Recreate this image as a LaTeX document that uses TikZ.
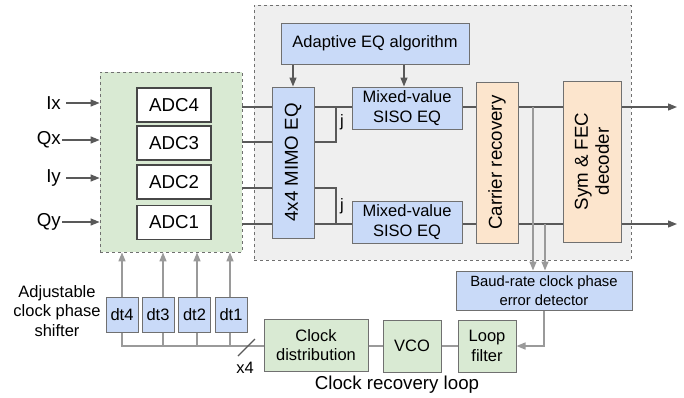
\documentclass[tikz,border=0pt]{standalone}
\usepackage{fontspec}
\setmainfont{Liberation Sans}
\usetikzlibrary{arrows.meta,calc}
\definecolor{bluef}{HTML}{C9DAF8}
\definecolor{greenf}{HTML}{D9EAD3}
\definecolor{orangef}{HTML}{FCE5CD}
\definecolor{greyf}{HTML}{EFEFEF}
\definecolor{bord}{HTML}{707070}
\definecolor{linec}{HTML}{595959}
\definecolor{tapc}{HTML}{9A9A9A}
\newcommand{\fN}{\fontsize{16.5}{19.5}\selectfont}
\newcommand{\fL}{\fontsize{18.7}{21}\selectfont}
\newcommand{\fS}{\fontsize{14.8}{19.3}\selectfont}
\tikzset{
  bx/.style={draw=bord, line width=1pt, inner sep=0pt, align=center, font=\fN},
  bluebox/.style={bx, fill=bluef},
  greenbox/.style={bx, fill=greenf},
  orangebox/.style={bx, fill=orangef},
  adcbox/.style={draw=linec!80!black, line width=1.6pt, fill=white, inner sep=0pt, font=\fL, minimum width=74pt, minimum height=34pt},
  region/.style={draw=bord, dashed, line width=0.8pt, inner sep=0pt},
  sig/.style={draw=linec, line width=1.3pt},
  arr/.style={sig, -{Triangle[length=9pt,width=7pt]}},
  tap/.style={draw=tapc, line width=1.5pt},
  taparr/.style={tap, -{Triangle[length=9pt,width=7pt]}},
  lbl/.style={inner sep=1pt, font=\fL},
}
\begin{document}
\begin{tikzpicture}[x=1pt,y=-1pt]
\useasboundingbox (0,0) rectangle (684,397);
% regions
\node[region, fill=greenf, minimum width=142pt, minimum height=180pt] (green) at (171,162) {};
\node[region, fill=greyf, minimum width=377pt, minimum height=255pt] (grey) at (442.5,132.5) {};
% ADCs
\node[adcbox] (adc4) at (174,105) {ADC4};
\node[adcbox] (adc3) at (174,143) {ADC3};
\node[adcbox] (adc2) at (174,182) {ADC2};
\node[adcbox] (adc1) at (174,222.5) {ADC1};
% inputs
\node[lbl, anchor=east] (ix) at (62,103) {Ix};
\node[lbl, anchor=east] (qx) at (62,140) {Qx};
\node[lbl, anchor=east] (iy) at (62,178) {Iy};
\node[lbl, anchor=east] (qy) at (62,222) {Qy};
\draw[arr] ([xshift=4pt]ix.east) -- (ix.east -| green.west);
\draw[arr] (qx.east) -- (qx.east -| green.west);
\draw[arr] ([xshift=4pt]iy.east) -- (iy.east -| green.west);
\draw[arr] (qy.east) -- (qy.east -| green.west);
% DSP blocks
\node[bluebox, minimum width=188pt, minimum height=41pt] (adapt) at (375,43.5) {Adaptive EQ algorithm};
\node[bluebox, minimum width=151pt, minimum height=42pt, rotate=90, font=\fL] (mimo) at (293,162.5) {4x4 MIMO EQ};
\node[bluebox, minimum width=110pt, minimum height=42pt] (siso1) at (407,108) {Mixed-value\\SISO EQ};
\node[bluebox, minimum width=110pt, minimum height=42pt] (siso2) at (407,222) {Mixed-value\\SISO EQ};
\node[orangebox, minimum width=161pt, minimum height=42pt, rotate=90, font=\fL] (carrier) at (497,162.5) {Carrier recovery};
\node[orangebox, minimum width=161pt, minimum height=58pt, rotate=90, font=\fL] (sym) at (592,161.5) {Sym \& FEC\\decoder};
% coordinates of signal rows
\coordinate (r1) at (272,107);
\coordinate (r2) at (272,142);
\coordinate (r3) at (272,188);
\coordinate (r4) at (272,224);
\coordinate (jx) at (336,0);
\coordinate (t1) at (533,0);
\coordinate (t2) at (545,0);
\coordinate (outx) at (677,0);
% ADC -> MIMO
\draw[sig] (r1 -| green.east) -- (r1);
\draw[sig] (r2 -| green.east) -- (r2);
\draw[sig] (r3 -| green.east) -- (r3);
\draw[sig] (r4 -| green.east) -- (r4);
% adaptive arrows
\draw[arr] (adapt.south -| mimo.center) -- (mimo.east);
\draw[arr] ([xshift=-3pt]adapt.south -| siso1.north) -- ([xshift=-3pt]siso1.north);
% MIMO -> SISO with j
\draw[sig] (r1 -| mimo.south) -- (r1 -| siso1.west);
\draw[sig] (r2 -| mimo.south) -- (r2 -| jx) -- (r1 -| jx);
\draw[sig] (r4 -| mimo.south) -- (r4 -| siso2.west);
\draw[sig] (r3 -| mimo.south) -- (r3 -| jx) -- (r4 -| jx);
\node[font=\fN, inner sep=0pt] (j1) at (342,122) {j};
\node[font=\fN, inner sep=0pt] (j2) at (342,206) {j};
% SISO -> carrier -> sym -> out
\draw[sig] (r1 -| siso1.east) -- (r1 -| carrier.north);
\draw[sig] (r4 -| siso2.east) -- (r4 -| carrier.north);
\draw[sig] (r1 -| carrier.south) -- (r1 -| sym.north);
\draw[sig] (r4 -| carrier.south) -- (r4 -| sym.north);
\draw[arr] (r1 -| sym.south) -- (r1 -| outx);
\draw[arr] (r4 -| sym.south) -- (r4 -| outx);
% baud-rate detector
\node[bluebox, font=\fS, minimum width=176pt, minimum height=39pt] (baud) at (544,290.5) {Baud-rate clock phase\\error detector};
\draw[taparr] (r1 -| t1) -- (baud.north -| t1);
\draw[taparr] (r4 -| t2) -- (baud.north -| t2);
% clock loop
\node[greenbox, minimum width=58pt, minimum height=52pt] (lf) at (487,346) {Loop\\filter};
\node[greenbox, minimum width=58pt, minimum height=52pt] (vco) at (412,346) {VCO};
\node[greenbox, minimum width=104pt, minimum height=52pt] (cd) at (316,345) {Clock\\distribution};
\draw[taparr] (baud.south) -- (baud.south |- lf.east) -- (lf.east);
\draw[tap] (vco.east) -- (lf.west);
\draw[tap] (cd.east |- vco.west) -- (vco.west);
\node[font=\fL, inner sep=0pt] (crl) at (397,385) {Clock recovery loop};
% phase shifters
\node[bluebox, minimum width=32pt, minimum height=35pt] (dt4) at (122,314.5) {dt4};
\node[bluebox, minimum width=32pt, minimum height=35pt] (dt3) at (158,314.5) {dt3};
\node[bluebox, minimum width=32pt, minimum height=35pt] (dt2) at (194.5,314.5) {dt2};
\node[bluebox, minimum width=32pt, minimum height=35pt] (dt1) at (231,314.5) {dt1};
\coordinate (bus) at (122,346);
\coordinate (a4) at (122,0);
\coordinate (a3) at (163,0);
\coordinate (a2) at (197,0);
\coordinate (a1) at (230,0);
\draw[tap] (cd.west |- bus) -- (bus -| a4) -- (dt4.south -| a4);
\draw[tap] (bus -| a3) -- (dt3.south -| a3);
\draw[tap] (bus -| a2) -- (dt2.south -| a2);
\draw[tap] (bus -| a1) -- (dt1.south -| a1);
\draw[taparr] (dt4.north -| a4) -- (green.south -| a4);
\draw[taparr] (dt3.north -| a3) -- (green.south -| a3);
\draw[taparr] (dt2.north -| a2) -- (green.south -| a2);
\draw[taparr] (dt1.north -| a1) -- (green.south -| a1);
\coordinate (s1) at (238,356);
\coordinate (s2) at (255,339);
\draw[draw=linec, line width=1.2pt] (s1) -- (s2);
\node[font=\fN, inner sep=0pt] (x4) at (245,368) {x4};
\node[font=\fN, align=center, inner sep=0pt] (adj) at (57,311) {Adjustable\\clock phase\\shifter};
\end{tikzpicture}
\end{document}
